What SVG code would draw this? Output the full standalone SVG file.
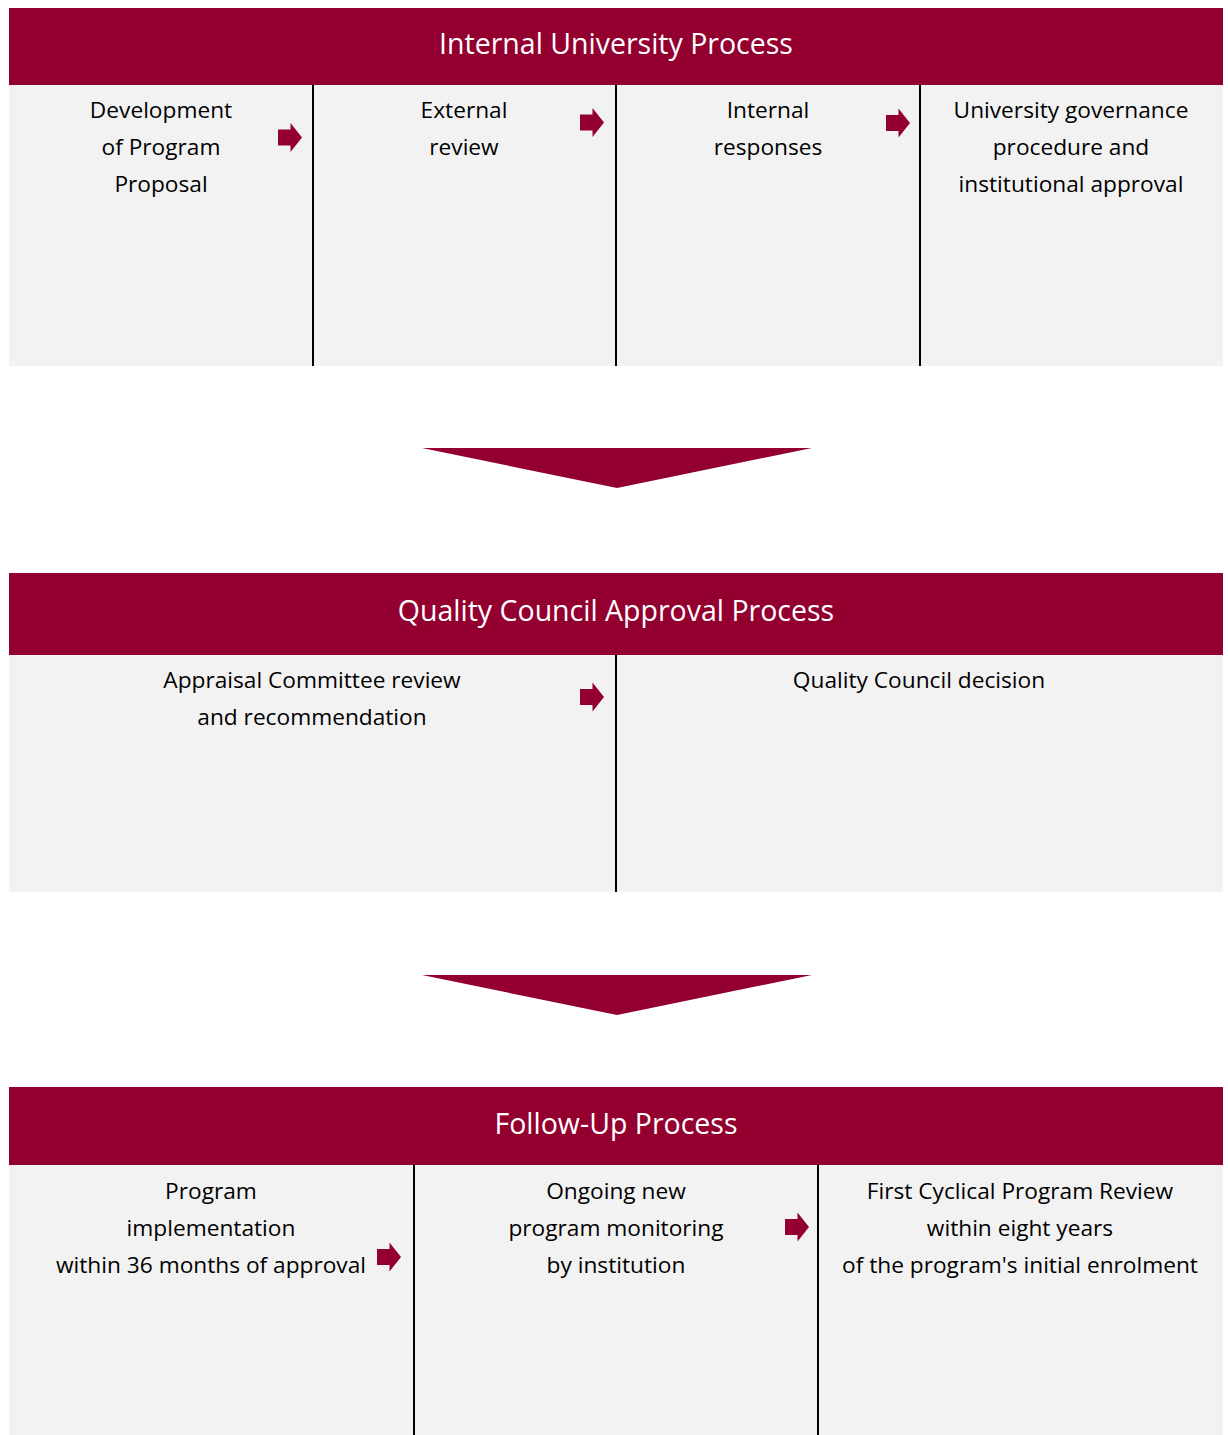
<svg xmlns="http://www.w3.org/2000/svg" xmlns:xlink="http://www.w3.org/1999/xlink" width="1228" height="1435" viewBox="0 0 1228 1435">
<style>
.hdr{fill:#930030}
.body{fill:#f2f2f2}
.div{stroke:#000;stroke-width:2}
.ht{font-family:"Open Sans","DejaVu Sans",sans-serif;font-size:28.5px;fill:#fff;text-anchor:middle}
.bt{font-family:"Open Sans","DejaVu Sans",sans-serif;font-size:22.7px;fill:#000;text-anchor:middle}
.ar{fill:#930030}
</style>
<defs>
<path id="arr" d="M0,-8 H12.5 V-14.5 L24,0 L12.5,14.5 V8 H0 Z"/>
</defs>
<rect width="1228" height="1435" fill="#fff"/>

<g id="section1">
<rect class="hdr" x="9" y="8" width="1214" height="77"/>
<text class="ht" x="616" y="54">Internal University Process</text>
<rect class="body" x="9" y="85" width="1214" height="281"/>
</g>
<g id="node-development">
<text class="bt" x="161" y="118">Development</text>
<text class="bt" x="161" y="155">of Program</text>
<text class="bt" x="161" y="192">Proposal</text>
</g>
<g id="node-external">
<text class="bt" x="464" y="118">External</text>
<text class="bt" x="464" y="155">review</text>
</g>
<g id="node-internal">
<text class="bt" x="768" y="118">Internal</text>
<text class="bt" x="768" y="155">responses</text>
</g>
<g id="node-governance">
<text class="bt" x="1071" y="118">University governance</text>
<text class="bt" x="1071" y="155">procedure and</text>
<text class="bt" x="1071" y="192">institutional approval</text>
</g>

<g id="section2">
<rect class="hdr" x="9" y="573" width="1214" height="82"/>
<text class="ht" x="616" y="621">Quality Council Approval Process</text>
<rect class="body" x="9" y="655" width="1214" height="237"/>
</g>
<g id="node-appraisal">
<text class="bt" x="312" y="688">Appraisal Committee review</text>
<text class="bt" x="312" y="725">and recommendation</text>
</g>
<g id="node-qc-decision">
<text class="bt" x="919" y="688">Quality Council decision</text>
</g>

<g id="section3">
<rect class="hdr" x="9" y="1087" width="1214" height="78"/>
<text class="ht" x="616" y="1134">Follow-Up Process</text>
<rect class="body" x="9" y="1165" width="1214" height="270"/>
</g>
<g id="node-implementation">
<text class="bt" x="211" y="1199">Program</text>
<text class="bt" x="211" y="1236">implementation</text>
<text class="bt" x="211" y="1273">within 36 months of approval</text>
</g>
<g id="node-monitoring">
<text class="bt" x="616" y="1199">Ongoing new</text>
<text class="bt" x="616" y="1236">program monitoring</text>
<text class="bt" x="616" y="1273">by institution</text>
</g>
<g id="node-cyclical">
<text class="bt" x="1020" y="1199">First Cyclical Program Review</text>
<text class="bt" x="1020" y="1236">within eight years</text>
<text class="bt" x="1020" y="1273">of the program's initial enrolment</text>
</g>

<g id="connectors">
<line class="div" x1="313" y1="85" x2="313" y2="366"/>
<line class="div" x1="616" y1="85" x2="616" y2="366"/>
<line class="div" x1="920" y1="85" x2="920" y2="366"/>
<line class="div" x1="616" y1="655" x2="616" y2="892"/>
<line class="div" x1="414" y1="1165" x2="414" y2="1435"/>
<line class="div" x1="818" y1="1165" x2="818" y2="1435"/>
<use class="ar" href="#arr" xlink:href="#arr" x="278" y="137.5"/>
<use class="ar" href="#arr" xlink:href="#arr" x="580" y="122.5"/>
<use class="ar" href="#arr" xlink:href="#arr" x="886" y="123"/>
<use class="ar" href="#arr" xlink:href="#arr" x="580" y="697"/>
<use class="ar" href="#arr" xlink:href="#arr" x="377" y="1257"/>
<use class="ar" href="#arr" xlink:href="#arr" x="785" y="1227"/>
<polygon class="ar" points="422,448 812,448 617,488"/>
<polygon class="ar" points="422,975 812,975 617,1015"/>
</g>
</svg>
